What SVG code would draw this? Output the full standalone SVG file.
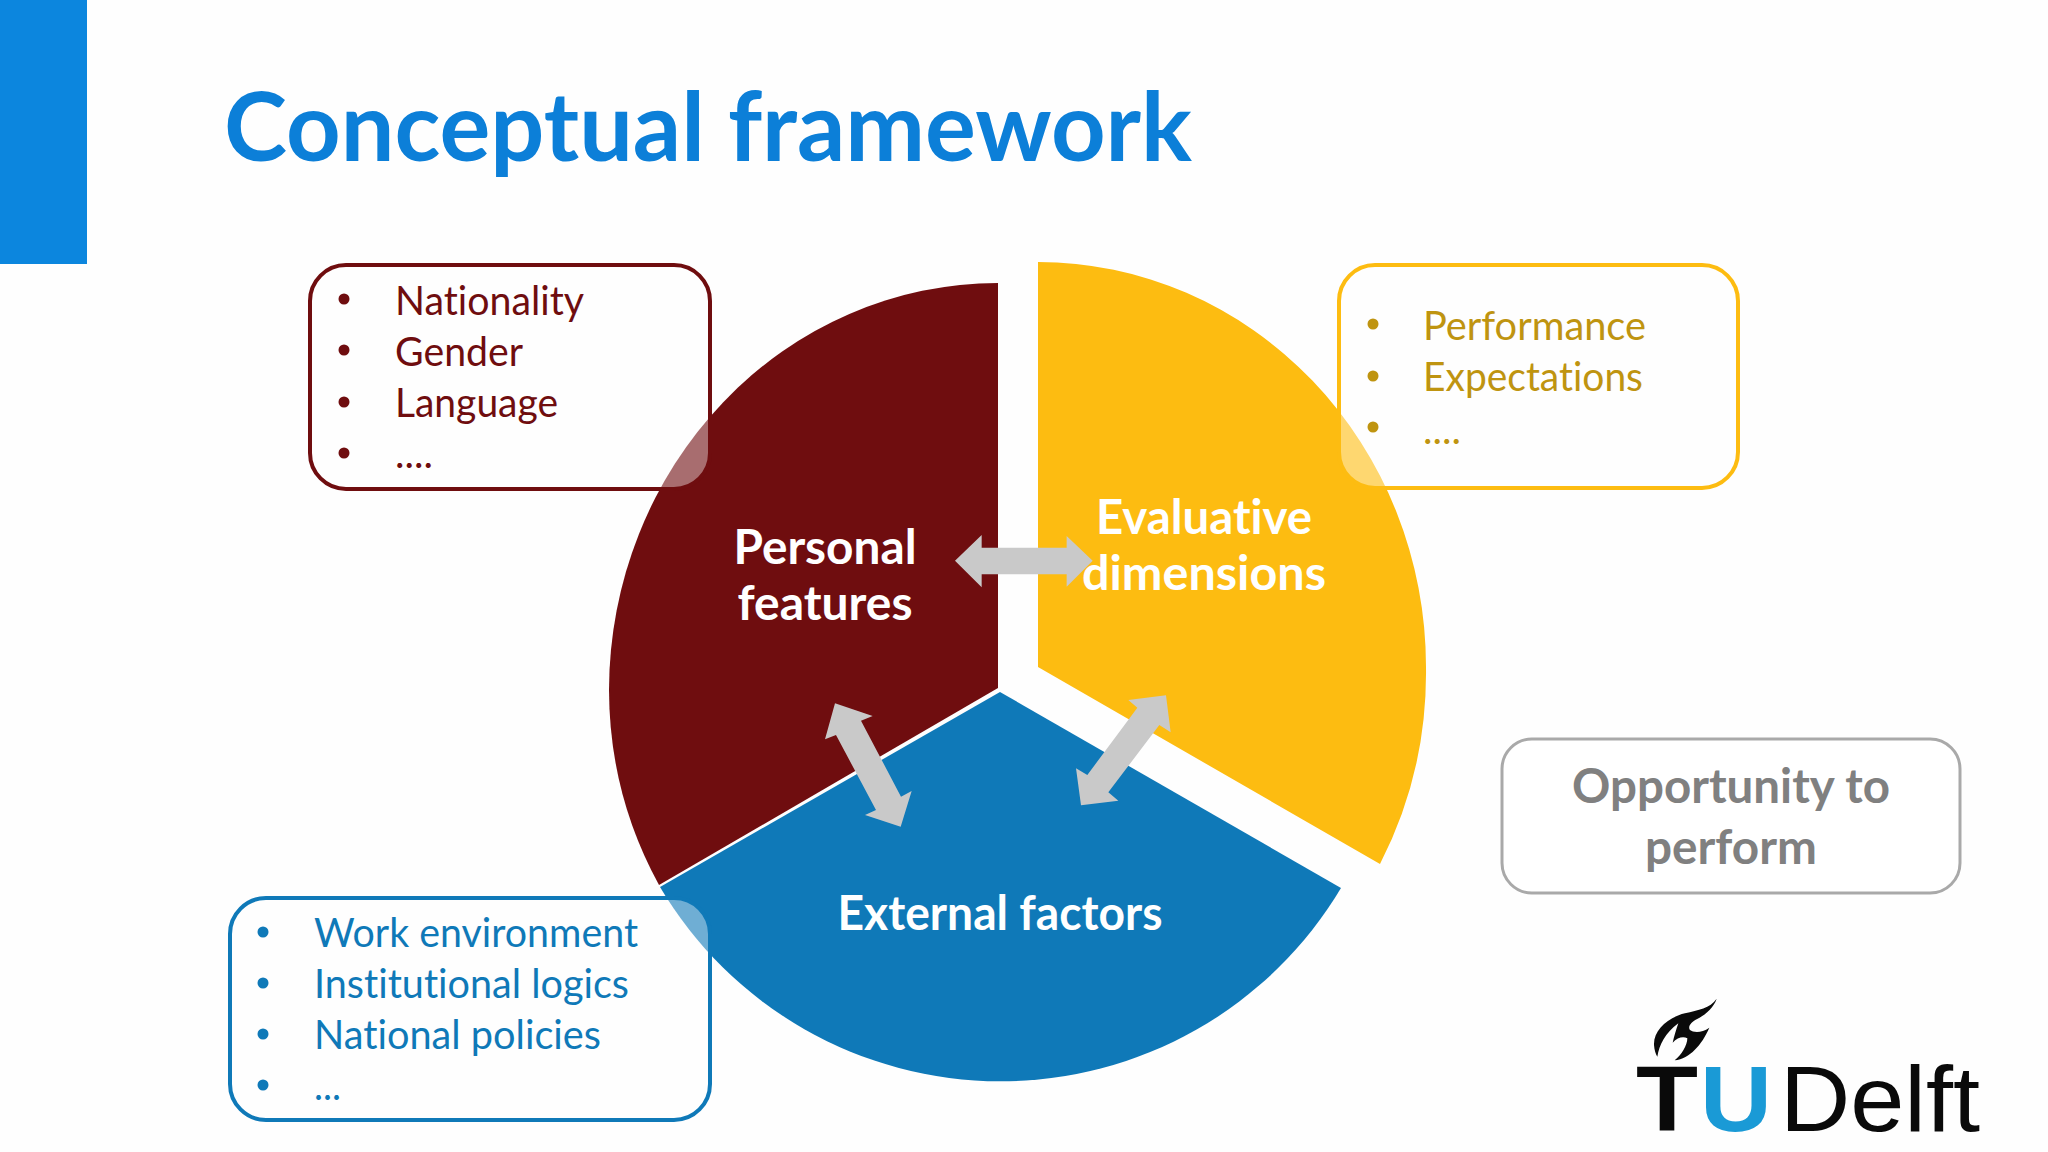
<svg xmlns="http://www.w3.org/2000/svg" width="2048" height="1152" viewBox="0 0 2048 1152">
<style>
text{font-family:"Lato","Open Sans","Liberation Sans",sans-serif;font-variant-ligatures:none}
.lst{font-size:40px}
.head{font-size:47px;font-weight:700;fill:#fff;text-anchor:middle}
.box{fill:#fff;fill-opacity:.4;stroke-width:4}
.red{fill:#6f0d0f}.blue{fill:#0f79b8}.gold{fill:#fdbc11}.dgold{fill:#bf9410}
.arrow{fill:#c9c9c9}
</style>
<rect width="2048" height="1152" fill="#fefefe"/>
<rect id="accent-bar" width="87" height="264" fill="#0c86de"/>
<text id="title" x="224" y="161" font-size="96" font-weight="700" fill="#0c7fd8" textLength="968" lengthAdjust="spacingAndGlyphs">Conceptual framework</text>

<g id="personal-sector"><path class="red" d="M998 688L659 885A389 400 0 0 1 609 690A389 408 0 0 1 998 283Z"/></g>
<g id="evaluative-sector"><path class="gold" d="M1038 667V262A388 405 0 0 1 1426 667A388 405 0 0 1 1380 864Z"/></g>
<g id="external-sector"><path class="blue" d="M1000 692L1341 888A396 396 0 0 1 660 887Z"/></g>

<g id="personal-list">
<rect class="box" x="310" y="265" width="400" height="224" rx="36" stroke="#6f0d0f"/>
<g class="red"><circle cx="344" cy="299" r="5.5"/><circle cx="344" cy="350" r="5.5"/><circle cx="344" cy="402" r="5.5"/><circle cx="344" cy="453" r="5.5"/>
<text class="lst" x="395" y="315" textLength="189" lengthAdjust="spacingAndGlyphs">Nationality</text>
<text class="lst" x="395" y="366" textLength="128" lengthAdjust="spacingAndGlyphs">Gender</text>
<text class="lst" x="395" y="417" textLength="163" lengthAdjust="spacingAndGlyphs">Language</text>
<text class="lst" x="395" y="468" textLength="38" lengthAdjust="spacingAndGlyphs">....</text></g>
</g>
<g id="evaluative-list">
<rect class="box" x="1339" y="265" width="399" height="223" rx="36" stroke="#fdbc11"/>
<g class="dgold"><circle cx="1373" cy="324" r="5.5"/><circle cx="1373" cy="376" r="5.5"/><circle cx="1373" cy="427" r="5.5"/>
<text class="lst" x="1423" y="340" textLength="223" lengthAdjust="spacingAndGlyphs">Performance</text>
<text class="lst" x="1423" y="391" textLength="220" lengthAdjust="spacingAndGlyphs">Expectations</text>
<text class="lst" x="1423" y="444" textLength="38" lengthAdjust="spacingAndGlyphs">....</text></g>
</g>
<g id="external-list">
<rect class="box" x="230" y="898" width="480" height="222" rx="36" stroke="#0f79b8"/>
<g class="blue"><circle cx="263" cy="932" r="5.5"/><circle cx="263" cy="983" r="5.5"/><circle cx="263" cy="1034" r="5.5"/><circle cx="263" cy="1085" r="5.5"/>
<text class="lst" x="314" y="947" textLength="324" lengthAdjust="spacingAndGlyphs">Work environment</text>
<text class="lst" x="314" y="998" textLength="315" lengthAdjust="spacingAndGlyphs">Institutional logics</text>
<text class="lst" x="314" y="1049" textLength="287" lengthAdjust="spacingAndGlyphs">National policies</text>
<text class="lst" x="314" y="1100" textLength="27" lengthAdjust="spacingAndGlyphs">...</text></g>
</g>

<g id="connectors" class="arrow" transform="translate(800 480) scale(.33333)">
<polygon points="465,242 545,165 545,203 800,203 800,168 878,242 800,320 800,283 545,283 545,322"/>
<polygon points="105,670 218,708 183,722 303,950 335,933 302,1040 195,1005 228,990 108,765 75,778"/>
<polygon points="1098,646 1112,757 1078,735 925,937 955,962 843,976 828,865 862,885 1012,683 985,660"/>
</g>

<g id="personal-label"><text class="head" x="825" y="564" textLength="183" lengthAdjust="spacingAndGlyphs">Personal</text><text class="head" x="825" y="620" textLength="175" lengthAdjust="spacingAndGlyphs">features</text></g>
<g id="evaluative-label"><text class="head" x="1204" y="534" textLength="216" lengthAdjust="spacingAndGlyphs">Evaluative</text><text class="head" x="1204" y="590" textLength="244" lengthAdjust="spacingAndGlyphs">dimensions</text></g>
<g id="external-label"><text class="head" x="1000" y="930" textLength="325" lengthAdjust="spacingAndGlyphs">External factors</text></g>

<g id="opportunity">
<rect x="1502" y="739" width="458" height="154" rx="30" fill="#fff" stroke="#a9a9a9" stroke-width="3"/>
<text x="1731" y="803" font-size="47" font-weight="700" fill="#808080" text-anchor="middle" textLength="318" lengthAdjust="spacingAndGlyphs">Opportunity to</text>
<text x="1731" y="864" font-size="47" font-weight="700" fill="#808080" text-anchor="middle" textLength="172" lengthAdjust="spacingAndGlyphs">perform</text>
</g>

<g id="logo">
<path transform="translate(1600 980) scale(.33333)" fill="#0a0a0a" d="M350 56C330 85 295 90 255 100C205 112 160 150 162 195C163 210 167 222 172 230C178 195 195 160 235 130C228 150 222 170 218 188C232 172 250 168 262 175C262 195 245 225 224 241C270 235 305 195 328 143C305 160 280 158 270 150C262 140 275 125 290 118C315 105 340 85 350 56Z"/>
<text x="1636" y="1131" font-size="92" font-weight="700" fill="#0a0a0a" style="font-family:'Liberation Sans',sans-serif" textLength="62" lengthAdjust="spacingAndGlyphs">T</text>
<text x="1700" y="1131" font-size="92" font-weight="700" fill="#1a9ad6" style="font-family:'Liberation Sans',sans-serif" textLength="72" lengthAdjust="spacingAndGlyphs">U</text>
<text x="1780" y="1131" font-size="92" fill="#0a0a0a" style="font-family:'Liberation Sans',sans-serif" textLength="200" lengthAdjust="spacingAndGlyphs">Delft</text>
</g>
</svg>
